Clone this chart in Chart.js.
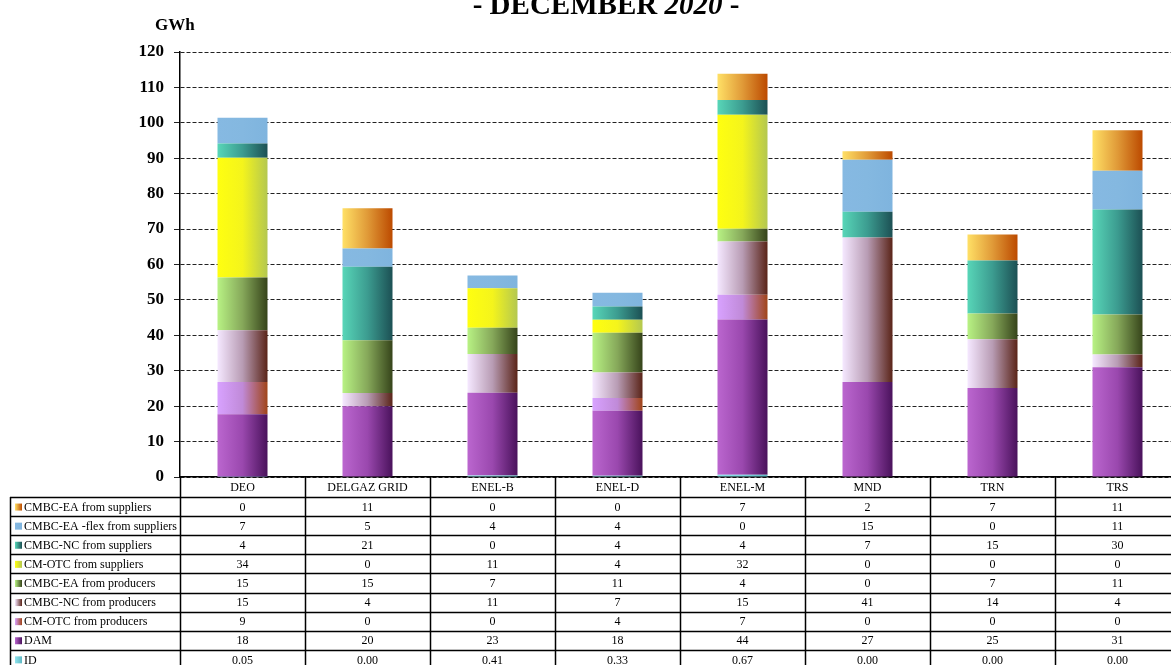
<!DOCTYPE html>
<html>
<head>
<meta charset="utf-8">
<script src="https://cdn.jsdelivr.net/npm/chart.js@4.4.1/dist/chart.umd.min.js"></script>
<style>
    html, body { margin: 0; padding: 0; background: #fff; overflow: hidden; }
    #wrap { position: absolute; left: 0; top: 0; width: 1190px; height: 680px; }
</style>
</head>
<body>
<div id="wrap"><canvas id="mixChart" width="1190" height="680"></canvas></div>
<script>
// Categories and series (GWh)
const categories = ['DEO', 'DELGAZ GRID', 'ENEL-B', 'ENEL-D', 'ENEL-M', 'MND', 'TRN', 'TRS'];
const idVals     = [0.05, 0.00, 0.41, 0.33, 0.67, 0.00, 0.00, 0.00];
const dam        = [17.7, 20.0, 23.4, 18.4, 43.8, 26.8, 25.1, 31.0];
const cmOtcProd  = [9.1, 0, 0, 3.6, 7.0, 0, 0, 0];
const cmbcNcProd = [14.6, 3.7, 10.9, 7.2, 15.0, 40.8, 13.8, 3.6];
const cmbcEaProd = [14.9, 14.9, 7.4, 11.2, 3.6, 0, 7.3, 11.3];
const cmOtcSup   = [33.8, 0, 11.2, 3.7, 32.2, 0, 0, 0];
const cmbcNcSup  = [4.0, 20.8, 0, 3.7, 4.2, 7.3, 14.9, 29.6];
const flexSup    = [7.3, 5.1, 3.6, 3.9, 0, 14.7, 0, 11.0];
const cmbcEaSup  = [0, 11.4, 0, 0, 7.4, 2.4, 7.4, 11.4];
const yTicks     = [0, 10, 20, 30, 40, 50, 60, 70, 80, 90, 100, 110, 120];

const SERIF = '"Liberation Serif", "DejaVu Serif", serif';
const BAR_FRACTION = 0.4;

// Series, bottom of the stack first; colours go light (left) to dark (right)
const series = [
    { label: 'ID', data: idVals, stops: ['#8fe3ec', '#7fd6e0', '#5fb8c4'], decimals: 2 },
    { label: 'DAM', data: dam, stops: ['#bb66cf', '#9a48ae', '#4a125c'], decimals: 0 },
    { label: 'CM-OTC from producers', data: cmOtcProd, stops: ['#d8a2ff', '#c08ad8', '#a04418'], decimals: 0 },
    { label: 'CMBC-NC from producers', data: cmbcNcProd, stops: ['#f5e8ff', '#b89cb4', '#5a2418'], decimals: 0 },
    { label: 'CMBC-EA from producers', data: cmbcEaProd, stops: ['#b8f284', '#86a85a', '#36441a'], decimals: 0 },
    { label: 'CM-OTC from suppliers', data: cmOtcSup, stops: ['#ffff10', '#f4f41c', '#b4c850'], decimals: 0 },
    { label: 'CMBC-NC from suppliers', data: cmbcNcSup, stops: ['#58d6b8', '#3c9c90', '#1c5054'], decimals: 0 },
    { label: 'CMBC-EA -flex from suppliers', data: flexSup, stops: ['#86b9e2', '#84b8e0', '#7fb4de'], decimals: 0 },
    { label: 'CMBC-EA from suppliers', data: cmbcEaSup, stops: ['#ffe066', '#e09a38', '#bc4a00'], decimals: 0 }
];

function barGradient(stops) {
    return function (ctx) {
        const chart = ctx.chart;
        const xScale = chart.scales.x;
        if (!chart.chartArea || !xScale || ctx.dataIndex === undefined) return stops[1];
        const step = xScale.width / categories.length;
        const cx = xScale.getPixelForValue(ctx.dataIndex);
        const w = step * BAR_FRACTION;
        const g = chart.ctx.createLinearGradient(cx - w / 2, 0, cx + w / 2, 0);
        g.addColorStop(0, stops[0]);
        g.addColorStop(0.5, stops[1]);
        g.addColorStop(1, stops[2]);
        return g;
    };
}

// Title and unit label
const titlePlugin = {
    id: 'titleText',
    afterDraw(chart) {
        const c = chart.ctx;
        c.save();
        c.fillStyle = '#000';
        c.textBaseline = 'alphabetic';
        const parts = [
            ['- DECEMBER ', 'bold 29px ' + SERIF],
            ['2020', 'italic bold 29px ' + SERIF],
            [' -', 'bold 29px ' + SERIF]
        ];
        let total = 0;
        parts.forEach(p => { c.font = p[1]; total += c.measureText(p[0]).width; });
        let x = 606 - total / 2;
        parts.forEach(p => {
            c.font = p[1];
            c.fillText(p[0], x, 14);
            x += c.measureText(p[0]).width;
        });
        c.font = 'bold 17px ' + SERIF;
        c.fillText('GWh', 155, 30);
        c.restore();
    }
};

// Data table under the plot, rows in reverse stack order
const tablePlugin = {
    id: 'dataTable',
    afterDraw(chart) {
        const c = chart.ctx;
        const xScale = chart.scales.x;
        const area = chart.chartArea;
        const step = xScale.width / categories.length;
        const headerBottom = area.bottom + 20;
        const rowH = 19.1;
        const rows = series.slice().reverse();
        const tableLeft = 10;
        const tableRight = xScale.right;
        const tableBottom = headerBottom + rowH * rows.length;

        c.save();
        c.strokeStyle = '#000';
        c.lineWidth = 1.5;
        c.beginPath();
        // horizontal lines
        for (let r = 0; r <= rows.length; r++) {
            const y = Math.round(headerBottom + r * rowH) + 0.5;
            c.moveTo(tableLeft, y);
            c.lineTo(tableRight, y);
        }
        // label column left edge
        c.moveTo(tableLeft + 0.5, headerBottom);
        c.lineTo(tableLeft + 0.5, tableBottom);
        // column boundaries
        for (let i = 0; i <= categories.length; i++) {
            const x = Math.round(xScale.left + i * step) + 0.5;
            c.moveTo(x, area.bottom);
            c.lineTo(x, tableBottom);
        }
        c.stroke();

        c.font = '12px ' + SERIF;
        c.fillStyle = '#000';
        c.textBaseline = 'middle';
        rows.forEach((s, r) => {
            const yMid = headerBottom + r * rowH + rowH / 2 + 1;
            // swatch
            const g = c.createLinearGradient(15, 0, 22, 0);
            g.addColorStop(0, s.stops[0]);
            g.addColorStop(1, s.stops[2]);
            c.fillStyle = g;
            c.fillRect(15, yMid - 4, 7, 7);
            c.fillStyle = '#000';
            c.textAlign = 'left';
            c.fillText(s.label, 24, yMid);
            c.textAlign = 'center';
            s.data.forEach((v, i) => {
                const txt = s.decimals ? v.toFixed(s.decimals) : String(Math.round(v));
                c.fillText(txt, xScale.getPixelForValue(i), yMid);
            });
        });
        c.restore();
    }
};

new Chart(document.getElementById('mixChart'), {
    type: 'bar',
    data: {
        labels: categories,
        datasets: series.map(s => ({
            label: s.label,
            data: s.data,
            backgroundColor: barGradient(s.stops),
            borderWidth: 0,
            barPercentage: BAR_FRACTION,
            categoryPercentage: 1.0
        }))
    },
    options: {
        responsive: false,
        animation: false,
        layout: {
            padding: { top: 52, right: 10, bottom: 183, left: 0 }
        },
        plugins: {
            legend: { display: false },
            title: { display: false },
            tooltip: { enabled: false }
        },
        scales: {
            x: {
                stacked: true,
                afterFit(scale) { scale.height = 20; },
                grid: { display: false, drawTicks: false },
                border: { display: true, color: '#000', width: 1.5 },
                ticks: {
                    padding: 4,
                    color: '#000',
                    font: { family: SERIF, size: 12 },
                    maxRotation: 0,
                    autoSkip: false
                }
            },
            y: {
                stacked: true,
                min: 0,
                max: 120,
                afterFit(scale) { scale.width = 180; },
                afterBuildTicks(scale) { scale.ticks = yTicks.map(v => ({ value: v })); },
                grid: {
                    color: '#222',
                    lineWidth: 1,
                    tickLength: 6,
                    tickBorderDash: [],
                    drawOnChartArea: true
                },
                border: { display: true, color: '#000', width: 1.5, dash: [4, 2] },
                ticks: {
                    padding: 10,
                    color: '#000',
                    font: { family: SERIF, size: 17, weight: 'bold' }
                }
            }
        }
    },
    plugins: [titlePlugin, tablePlugin]
});
</script>
</body>
</html>
